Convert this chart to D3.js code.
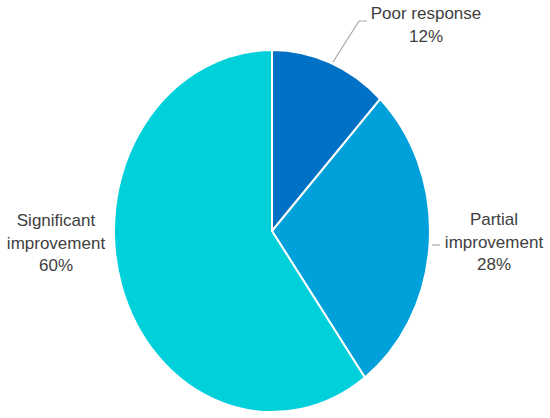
<!DOCTYPE html>
<html>
<head>
<meta charset="utf-8">
<script src="https://cdn.jsdelivr.net/npm/d3@7"></script>
<style>
  body { margin: 0; background: #fff; }
  .label { font-family: "Liberation Sans", Arial, sans-serif; font-size: 17px; fill: #404040; }
</style>
</head>
<body>
<div class="pie-chart"></div>
<script>
// data
var categories = ["Poor response", "Partial improvement", "Significant improvement"]
var values = [12, 28, 60]
var colors = ["#0071C5", "#00A0DA", "#00D0DA"]

// label lines, as shown on the chart
var labelLines = [["Poor response", "12%"], ["Partial", "improvement", "28%"], ["Significant", "improvement", "60%"]]

var width = 550, height = 418
var cx = 272, cy = 231
var ry = 181, rx = 158   // the pie is drawn slightly stretched vertically

var svg = d3.select(".pie-chart")
  .append("svg")
    .attr("width", width)
    .attr("height", height)

var data = categories.map(function(c, i) { return {name: c, value: values[i], color: colors[i]} })

var pie = d3.pie()
  .sort(null)
  .value(function(d) { return d.value })

var arc = d3.arc()
  .innerRadius(0)
  .outerRadius(ry)

var g = svg.append("g")
  .attr("transform", "translate(" + cx + "," + cy + ") scale(" + (rx / ry) + ",1)")

g.selectAll("path")
  .data(pie(data))
  .enter()
  .append("path")
    .attr("d", arc)
    .attr("fill", function(d) { return d.data.color })
    .attr("stroke", "#fff")
    .attr("stroke-width", 2)
    .attr("vector-effect", "non-scaling-stroke")

// labels
var labelPos = [
  {x: 426, y: 19},
  {x: 494, y: 225},
  {x: 56, y: 226}
]
var lineH = 22.5

labelLines.forEach(function(lines, i) {
  var t = svg.append("text")
    .attr("class", "label")
    .attr("text-anchor", "middle")
  lines.forEach(function(s, j) {
    t.append("tspan")
      .attr("x", labelPos[i].x)
      .attr("y", labelPos[i].y + j * lineH)
      .text(s)
  })
})

// leader lines
var leaders = [
  [[333, 62], [359, 21], [367, 21]],
  [[432, 245], [440, 245]]
]
svg.selectAll(".leader")
  .data(leaders)
  .enter()
  .append("path")
    .attr("class", "leader")
    .attr("d", d3.line())
    .attr("fill", "none")
    .attr("stroke", "#a6a6a6")
    .attr("stroke-width", 1.2)
</script>
</body>
</html>
